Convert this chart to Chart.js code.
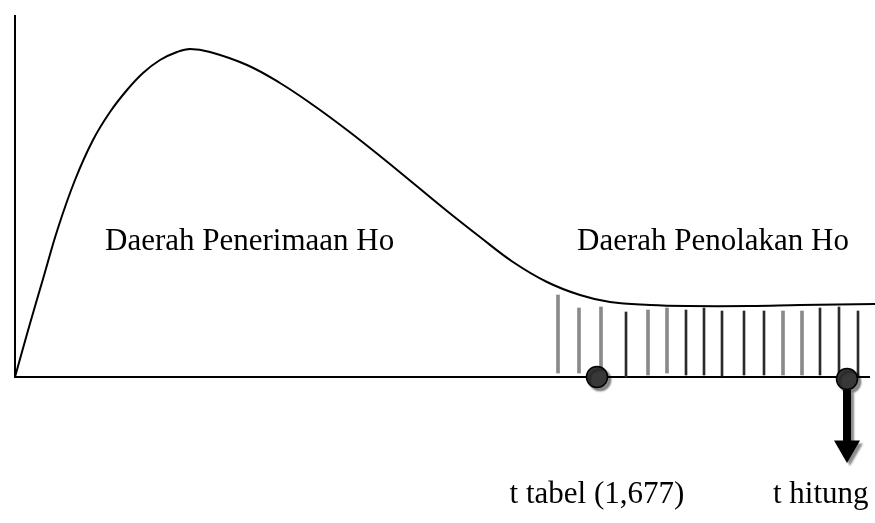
<!DOCTYPE html>
<html>
<head>
<meta charset="utf-8">
<script src="https://cdn.jsdelivr.net/npm/chart.js@4/dist/chart.umd.min.js"></script>
<style>
  html, body { margin: 0; padding: 0; background: #fff; }
  canvas { display: block; }
</style>
</head>
<body>
<canvas id="myChart" width="875" height="523"></canvas>
<script>
"use strict";

/* Data: t distribution sketch, origin at the axis corner */
const curveX = [0, 14, 28, 43, 60, 78, 95, 112, 128, 145, 162, 175, 195, 232, 265, 298, 332, 365, 398, 432, 465, 498, 532, 565, 595, 635, 672, 735, 785, 860];
const curveY = [0, 50, 98, 149, 197, 237, 265, 287, 304, 317, 325, 328, 325, 312, 294, 272, 247, 221, 194, 166, 140, 115, 95, 82, 75, 72, 71, 71, 72, 73];

// rejection-region hatching
const hatchX      = [543, 564, 586, 611, 633, 652, 671, 689, 707, 729, 749, 768, 787, 805, 824, 843];
const hatchTop    = [82, 69, 70, 65, 67, 69, 67, 69, 66, 66, 66, 66, 66, 69, 70, 66];
const hatchBottom = [4, 4, 4, 0, 2, 4, 2, 2, 1, 2, 2, 2, 2, 2, 2, 1];
const hatchTone   = ['g', 'g', 'g', 'd', 'g', 'g', 'd', 'd', 'd', 'd', 'd', 'g', 'g', 'd', 'd', 'd'];

// t tabel and t hitung markers
const markerX = [582, 832];
const markerY = [0, -2];
const markerLabels = ['t tabel (1,677)', 't hitung'];
const regionLabels = ['Daerah Penerimaan Ho', 'Daerah Penolakan Ho'];

const axisLength = { x: 855, y: 362 };

function hatchData(tone) {
    const out = [];
    hatchX.forEach(function (x, i) {
        if (hatchTone[i] === tone) {
            out.push({ x: x, y: [hatchBottom[i], hatchTop[i]] });
        }
    });
    return out;
}

const curveData = curveX.map(function (x, i) { return { x: x, y: curveY[i] }; });
const markerData = markerX.map(function (x, i) { return { x: x, y: markerY[i] }; });
const arrowX = markerX[1];

// shadow for markers and arrow
const shadowPlugin = {
    id: 'shadow',
    beforeDatasetDraw: function (chart, args) {
        if (chart.data.datasets[args.index].shadow) {
            chart.ctx.save();
            chart.ctx.shadowColor = 'rgba(0,0,0,0.45)';
            chart.ctx.shadowOffsetX = 3;
            chart.ctx.shadowOffsetY = 3;
            chart.ctx.shadowBlur = 2;
        }
    },
    afterDatasetDraw: function (chart, args) {
        if (chart.data.datasets[args.index].shadow) {
            chart.ctx.restore();
        }
    }
};

// text labels
const labelPlugin = {
    id: 'labels',
    afterDraw: function (chart) {
        const ctx = chart.ctx;
        const xs = chart.scales.x, ys = chart.scales.y;
        ctx.save();
        ctx.fillStyle = '#000';
        ctx.font = '31px "Liberation Serif", "Times New Roman", serif';
        ctx.textBaseline = 'alphabetic';
        ctx.textAlign = 'left';
        ctx.fillText(regionLabels[0], xs.getPixelForValue(90), ys.getPixelForValue(127));
        ctx.fillText(regionLabels[1], xs.getPixelForValue(562), ys.getPixelForValue(127));
        ctx.textAlign = 'center';
        ctx.fillText(markerLabels[0], xs.getPixelForValue(markerX[0]), ys.getPixelForValue(-126));
        ctx.textAlign = 'left';
        ctx.fillText(markerLabels[1], xs.getPixelForValue(758), ys.getPixelForValue(-126));
        ctx.restore();
    }
};

const config = {
    type: 'bar',
    data: {
        datasets: [
            {
                type: 'line',
                data: [{ x: 0, y: axisLength.y }, { x: 0, y: 0 }, { x: axisLength.x, y: 0 }],
                borderColor: '#000',
                borderWidth: 2,
                pointRadius: 0,
                tension: 0,
                order: 5
            },
            {
                data: hatchData('g'),
                backgroundColor: '#8a8a8a',
                barThickness: 3,
                grouped: false,
                order: 4
            },
            {
                data: hatchData('d'),
                backgroundColor: '#2b2b2b',
                barThickness: 2,
                grouped: false,
                order: 4
            },
            {
                type: 'line',
                data: curveData,
                borderColor: '#000',
                borderWidth: 2,
                pointRadius: 0,
                tension: 0.4,
                order: 3
            },
            {
                type: 'line',
                data: [{ x: arrowX, y: -13 }, { x: arrowX, y: -64 }],
                borderColor: '#000',
                borderWidth: 8,
                borderCapStyle: 'butt',
                pointRadius: 0,
                shadow: true,
                order: 2
            },
            {
                type: 'scatter',
                data: [{ x: arrowX, y: -71 }],
                pointStyle: 'triangle',
                rotation: 180,
                pointRadius: 15,
                backgroundColor: '#000',
                borderWidth: 0,
                shadow: true,
                order: 2
            },
            {
                type: 'scatter',
                data: markerData,
                pointStyle: 'circle',
                pointRadius: 10.5,
                backgroundColor: '#383838',
                borderColor: '#000',
                borderWidth: 1.5,
                shadow: true,
                order: 1
            }
        ]
    },
    options: {
        responsive: false,
        animation: false,
        layout: { padding: 0, autoPadding: false },
        plugins: {
            legend: { display: false },
            tooltip: { enabled: false }
        },
        scales: {
            x: { type: 'linear', min: -15, max: 860, offset: false, display: false },
            y: { type: 'linear', min: -146, max: 377, display: false }
        }
    },
    plugins: [shadowPlugin, labelPlugin]
};

const myChart = new Chart(document.getElementById('myChart'), config);
</script>
</body>
</html>
